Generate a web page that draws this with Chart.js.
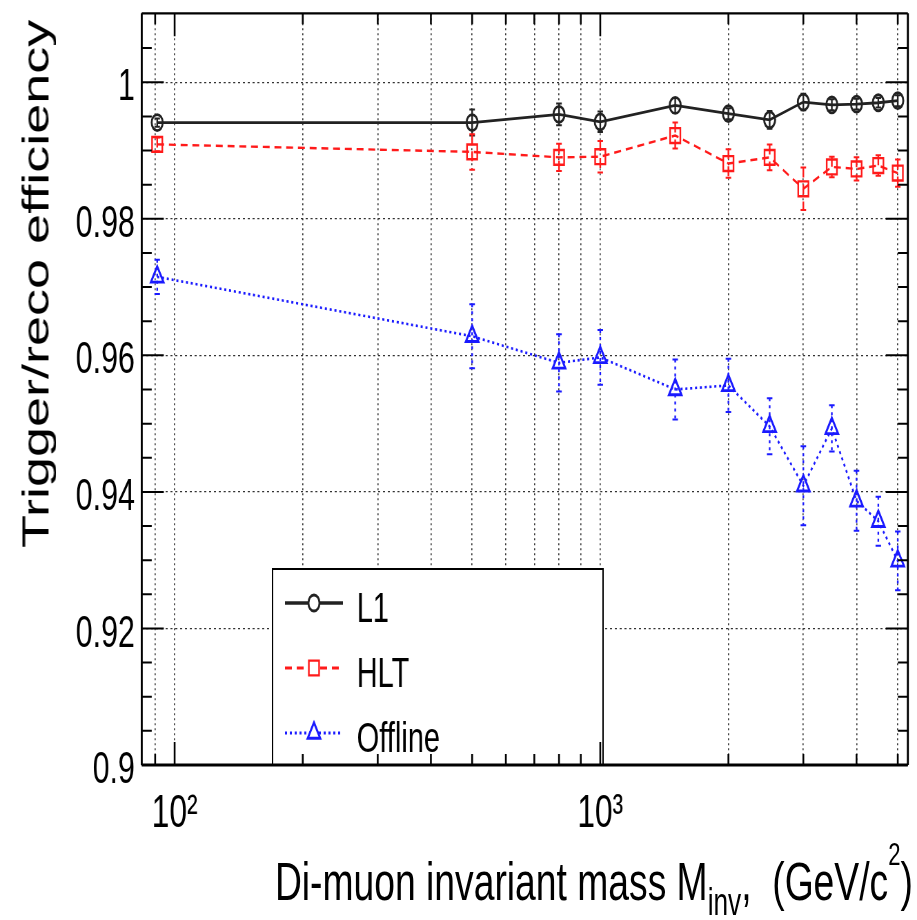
<!DOCTYPE html>
<html>
<head>
<meta charset="utf-8">
<script src="https://cdn.jsdelivr.net/npm/chart.js@4.4.2/dist/chart.umd.min.js"></script>
<style>
  html, body { margin: 0; padding: 0; background: #fff; overflow: hidden; }
  /* the reference is squeezed horizontally, so draw wide and compress */
  #wrap { position: absolute; left: 0; top: 0; width: 1329px; height: 920px; transform: scaleX(0.69); transform-origin: 0 0; font-family: 'Liberation Sans', Arial, sans-serif; color: #000; }
  #chart { position: absolute; left: 0; top: 0; }
  .xtitle { position: absolute; right: 6px; top: 854px; font-size: 54px; line-height: 54px; white-space: nowrap; }
  .ytitle { position: absolute; left: 24px; top: 548px; font-size: 54px; line-height: 54px; white-space: nowrap; transform: rotate(-90deg); transform-origin: 0 0; }
  .sub { font-size: 38px; line-height: 0; position: relative; top: 15px; }
  .sup { font-size: 32px; line-height: 0; position: relative; top: -35px; }
</style>
</head>
<body>
<div id="wrap">
  <canvas id="chart" width="1329" height="920"></canvas>
  <div class="ytitle">Trigger/reco efficiency</div>
  <div class="xtitle">Di-muon invariant mass M<span class="sub">inv</span>,&nbsp;&nbsp;(GeV/c<span class="sup">2</span>)</div>
</div>
<script>
const masses = [91, 500, 800, 1000, 1500, 2000, 2500, 3000, 3500, 4000, 4500, 5000];

const l1Eff = [0.9941, 0.9941, 0.9953, 0.9942, 0.9966, 0.9954, 0.9945, 0.9971, 0.9967, 0.9968, 0.9970, 0.9973];
const l1Err = [0.0006, 0.0019, 0.0016, 0.0015, 0.0011, 0.0008, 0.0013, 0.0012, 0.0008, 0.0008, 0.0007, 0.0008];

const hltEff = [0.9909, 0.9898, 0.9890, 0.9891, 0.9922, 0.9881, 0.9890, 0.9844, 0.9876, 0.9873, 0.9878, 0.9867];
const hltErr = [0.0010, 0.0026, 0.0020, 0.0023, 0.0019, 0.0021, 0.0019, 0.0031, 0.0015, 0.0017, 0.0015, 0.0020];

const offEff = [0.9715, 0.9628, 0.9589, 0.9597, 0.9550, 0.9556, 0.9496, 0.9409, 0.9493, 0.9387, 0.9357, 0.9299];
const offErr = [0.0025, 0.0047, 0.0042, 0.0040, 0.0044, 0.0039, 0.0041, 0.0058, 0.0034, 0.0044, 0.0036, 0.0043];

const seriesNames = ['L1', 'HLT', 'Offline'];

const xTickValues = [90, 100, 200, 300, 400, 500, 600, 700, 800, 900, 1000, 2000, 3000, 4000, 5000];
const xTickLabels = ['', '10²', '', '', '', '', '', '', '', '', '10³', '', '', '', ''];
const yTickValues = [0.9, 0.92, 0.94, 0.96, 0.98, 1.0];

const family = "'Liberation Sans', Arial, sans-serif";
const toPoints = vals => masses.map((m, i) => ({ x: m, y: vals[i] }));

const errorBars = {
  id: 'errorBars',
  beforeDatasetsDraw(chart) {
    const { ctx, scales: { x, y } } = chart;
    chart.data.datasets.forEach(ds => {
      ctx.save();
      ctx.strokeStyle = ds.borderColor;
      ctx.lineWidth = 2.4;
      ctx.setLineDash(ds.borderDash || []);
      ds.data.forEach((p, j) => {
        const px = x.getPixelForValue(p.x);
        const top = y.getPixelForValue(p.y + ds.errors[j]);
        const bot = y.getPixelForValue(p.y - ds.errors[j]);
        ctx.beginPath();
        ctx.moveTo(px, top);
        ctx.lineTo(px, bot);
        ctx.stroke();
        ctx.setLineDash([]);
        ctx.lineWidth = 2;
        ctx.beginPath();
        ctx.moveTo(px - 4, top); ctx.lineTo(px + 4, top);
        ctx.moveTo(px - 4, bot); ctx.lineTo(px + 4, bot);
        ctx.stroke();
        ctx.lineWidth = 2.4;
        ctx.setLineDash(ds.borderDash || []);
      });
      ctx.restore();
    });
  }
};

const frameAndLegend = {
  id: 'frameAndLegend',
  afterDraw(chart) {
    const { ctx, chartArea: { left, right, top, bottom }, scales: { x, y } } = chart;

    // legend box, sits on the x axis
    const lb = { left: 395, top: 569, right: 874 };
    ctx.save();
    ctx.fillStyle = '#fff';
    ctx.fillRect(lb.left, lb.top, lb.right - lb.left, bottom - lb.top);
    ctx.strokeStyle = '#000';
    ctx.lineWidth = 2;
    ctx.beginPath();
    ctx.moveTo(lb.left, bottom); ctx.lineTo(lb.left, lb.top);
    ctx.lineTo(lb.right, lb.top); ctx.lineTo(lb.right, bottom);
    ctx.stroke();
    chart.data.datasets.forEach((ds, i) => {
      const ey = 603 + i * 65;
      ctx.save();
      ctx.strokeStyle = ds.borderColor;
      ctx.lineWidth = ds.borderWidth + 0.5;
      ctx.setLineDash(ds.borderDash || []);
      ctx.beginPath();
      ctx.moveTo(413, ey); ctx.lineTo(497, ey);
      ctx.stroke();
      ctx.restore();
      ctx.fillStyle = '#fff';
      ctx.strokeStyle = ds.borderColor;
      ctx.lineWidth = ds.pointBorderWidth;
      Chart.helpers.drawPoint(ctx, { pointStyle: ds.pointStyle, radius: ds.pointRadius, borderWidth: ds.pointBorderWidth, rotation: 0 }, 455, ey);
      ctx.fillStyle = '#000';
      ctx.font = '42px ' + family;
      ctx.textBaseline = 'alphabetic';
      ctx.fillText(ds.label, 517, ey + 19);
    });
    ctx.restore();

    // frame
    ctx.save();
    ctx.strokeStyle = '#000';
    ctx.lineWidth = 2.2;
    ctx.beginPath();
    ctx.moveTo(left, top); ctx.lineTo(right, top);
    ctx.stroke();
    ctx.lineWidth = 3;
    ctx.beginPath();
    ctx.moveTo(left, bottom); ctx.lineTo(right, bottom);
    ctx.stroke();
    ctx.lineWidth = 2.9;
    ctx.beginPath();
    ctx.moveTo(left, top); ctx.lineTo(left, bottom);
    ctx.moveTo(right, top); ctx.lineTo(right, bottom);
    ctx.stroke();

    // inward ticks, y every 0.005
    ctx.lineWidth = 2;
    ctx.beginPath();
    for (let k = 0; k < 22; k++) {
      const py = y.getPixelForValue(0.9 + k * 0.005);
      const len = k % 4 === 0 ? 32 : 14.5;
      ctx.moveTo(left, py); ctx.lineTo(left + len, py);
      ctx.moveTo(right, py); ctx.lineTo(right - len, py);
    }
    ctx.stroke();
    ctx.lineWidth = 2.6;
    ctx.beginPath();
    xTickValues.forEach(v => {
      const px = x.getPixelForValue(v);
      const len = (v === 100 || v === 1000) ? 23 : 11;
      ctx.moveTo(px, bottom); ctx.lineTo(px, bottom - len);
      ctx.moveTo(px, top); ctx.lineTo(px, top + len);
    });
    ctx.stroke();
    ctx.restore();
  }
};

new Chart(document.getElementById('chart'), {
  type: 'line',
  data: {
    datasets: [{
      label: seriesNames[0],
      data: toPoints(l1Eff),
      errors: l1Err,
      borderColor: '#222',
      borderWidth: 2.8,
      pointStyle: 'circle',
      pointRadius: 8,
      pointBorderWidth: 2.8,
      pointBackgroundColor: 'rgba(0,0,0,0)',
      tension: 0
    }, {
      label: seriesNames[1],
      data: toPoints(hltEff),
      errors: hltErr,
      borderColor: '#ff1a1a',
      borderWidth: 2.4,
      borderDash: [10, 7],
      pointStyle: 'rect',
      pointRadius: 10.5,
      pointBorderWidth: 2.4,
      pointBackgroundColor: 'rgba(0,0,0,0)',
      tension: 0
    }, {
      label: seriesNames[2],
      data: toPoints(offEff),
      errors: offErr,
      borderColor: '#1a1aff',
      borderWidth: 2.6,
      borderDash: [3, 4],
      pointStyle: 'triangle',
      pointRadius: 10.5,
      pointBorderWidth: 2.8,
      pointBackgroundColor: 'rgba(0,0,0,0)',
      tension: 0
    }]
  },
  options: {
    responsive: false,
    animation: false,
    devicePixelRatio: 1,
    layout: { padding: { top: 10, right: 2, left: 0, bottom: 0 } },
    plugins: {
      legend: { display: false },
      tooltip: { enabled: false }
    },
    scales: {
      x: {
        type: 'logarithmic',
        min: 83.7,
        max: 5280,
        afterBuildTicks: s => { s.ticks = xTickValues.map(v => ({ value: v })); },
        afterFit: s => { s.height = 155; s.paddingLeft = 0; s.paddingRight = 0; },
        grid: { color: '#333', lineWidth: 1.6, drawTicks: false },
        border: { display: false, dash: [2, 3] },
        ticks: {
          autoSkip: false,
          maxRotation: 0,
          padding: 22,
          color: '#000',
          font: { size: 46, family },
          callback: v => xTickLabels[xTickValues.indexOf(v)]
        }
      },
      y: {
        min: 0.9,
        max: 1.0101,
        afterBuildTicks: s => { s.ticks = yTickValues.map(v => ({ value: v })); },
        afterFit: s => { s.width = 205.4; s.paddingTop = 0; s.paddingBottom = 0; },
        grid: { color: '#333', lineWidth: 1.2, drawTicks: false },
        border: { display: false, dash: [3, 4] },
        ticks: {
          padding: 10,
          labelOffset: 6,
          color: '#000',
          font: { size: 44, family },
          callback: v => String(+v.toFixed(2))
        }
      }
    }
  },
  plugins: [errorBars, frameAndLegend]
});
</script>
</body>
</html>
